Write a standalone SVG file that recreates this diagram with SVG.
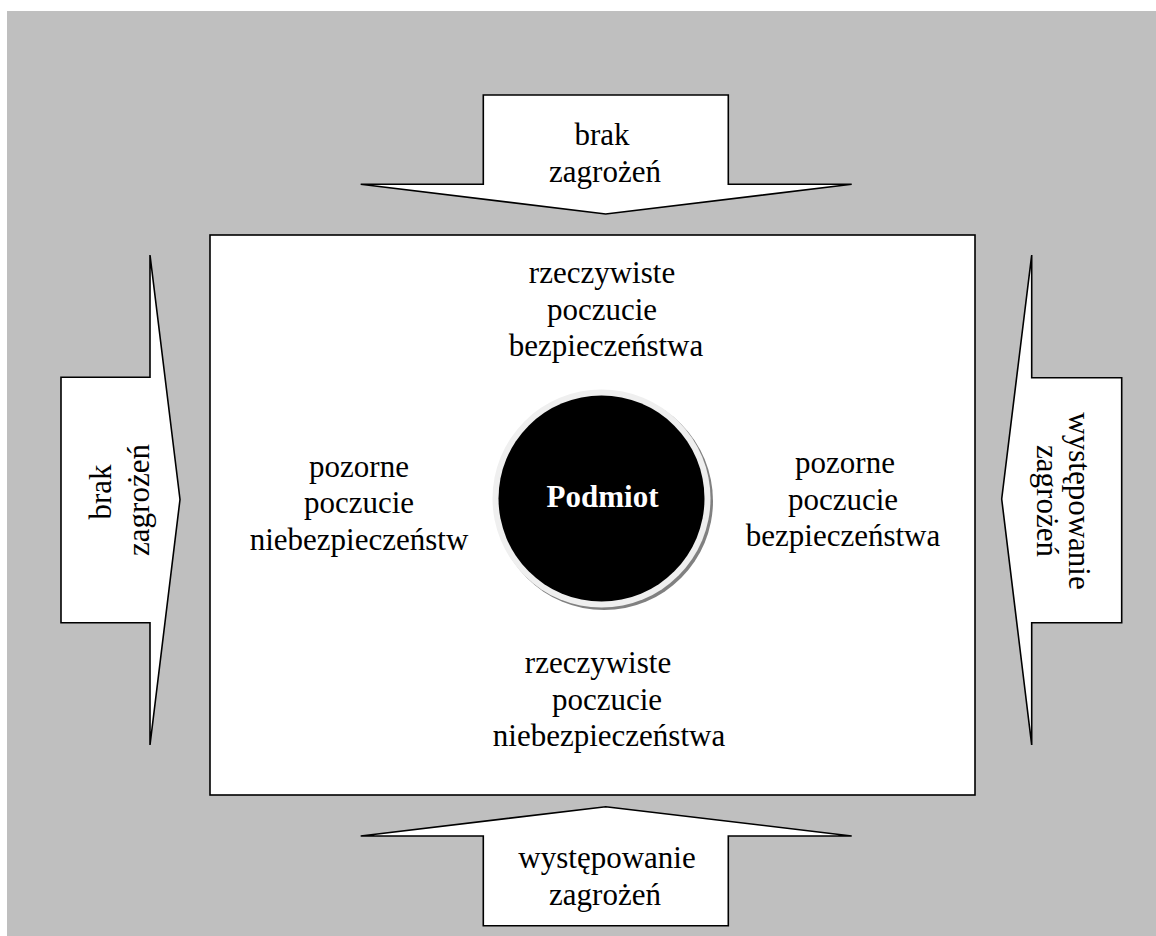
<svg xmlns="http://www.w3.org/2000/svg" width="1156" height="936" viewBox="0 0 1156 936">
<style>
.bg{fill:#bfbfbf}
.shape{fill:#ffffff;stroke:#000000;stroke-width:1.6;stroke-linejoin:miter}
.t{font-family:"Liberation Serif","Times New Roman",serif;font-size:31px;fill:#000000}
.c{text-anchor:middle}
.pod{font-family:"Liberation Serif","Times New Roman",serif;font-size:31px;font-weight:bold;fill:#ffffff;text-anchor:middle}
</style>
<rect class="bg" x="7" y="11" width="1149" height="925"/>
<g id="connectors">
<g id="arrow-top">
<polygon class="shape" points="483.3,95 728.3,95 728.3,184.3 851.7,184.3 605.7,214 360.7,184.3 483.3,184.3"/>
<text class="t c" x="602" y="145">brak</text>
<text class="t c" x="605" y="182">zagrożeń</text>
</g>
<g id="arrow-bottom">
<polygon class="shape" points="605.7,806.7 851.7,836 728.3,836 728.3,925.7 483.3,925.7 483.3,836 360.7,836"/>
<text class="t c" x="607" y="868">występowanie</text>
<text class="t c" x="605" y="905">zagrożeń</text>
</g>
<g id="arrow-left">
<polygon class="shape" points="61,377.3 150,377.3 150,255 180,499.5 150,745 150,622.7 61,622.7"/>
<text class="t c" transform="translate(111,492) rotate(-90)">brak</text>
<text class="t c" transform="translate(149,500) rotate(-90)">zagrożeń</text>
</g>
<g id="arrow-right">
<polygon class="shape" points="1121.7,377.7 1031.7,377.7 1031.7,255 1001.7,499 1031.7,745 1031.7,622.7 1121.7,622.7"/>
<text class="t c" transform="translate(1069,501) rotate(90)">występowanie</text>
<text class="t c" transform="translate(1037,501) rotate(90)">zagrożeń</text>
</g>
</g>
<g id="field">
<rect class="shape" x="210" y="235" width="765" height="560"/>
</g>
<g id="label-top">
<text class="t c" x="602" y="283">rzeczywiste</text>
<text class="t c" x="602" y="320">poczucie</text>
<text class="t c" x="606" y="356">bezpieczeństwa</text>
</g>
<g id="label-left">
<text class="t c" x="359" y="477">pozorne</text>
<text class="t c" x="359" y="513">poczucie</text>
<text class="t c" x="359" y="550">niebezpieczeństw</text>
</g>
<g id="label-right">
<text class="t c" x="845" y="473">pozorne</text>
<text class="t c" x="843" y="510">poczucie</text>
<text class="t c" x="843" y="546">bezpieczeństwa</text>
</g>
<g id="label-bottom">
<text class="t c" x="598" y="673">rzeczywiste</text>
<text class="t c" x="607" y="710">poczucie</text>
<text class="t c" x="609" y="746">niebezpieczeństwa</text>
</g>
<g id="podmiot">
<circle cx="604" cy="501" r="109" fill="#808080"/>
<circle cx="601.5" cy="498.5" r="109" fill="#efefef"/>
<circle cx="601.5" cy="498.5" r="103" fill="#000000"/>
<text class="pod" x="602.5" y="507">Podmiot</text>
</g>
</svg>
